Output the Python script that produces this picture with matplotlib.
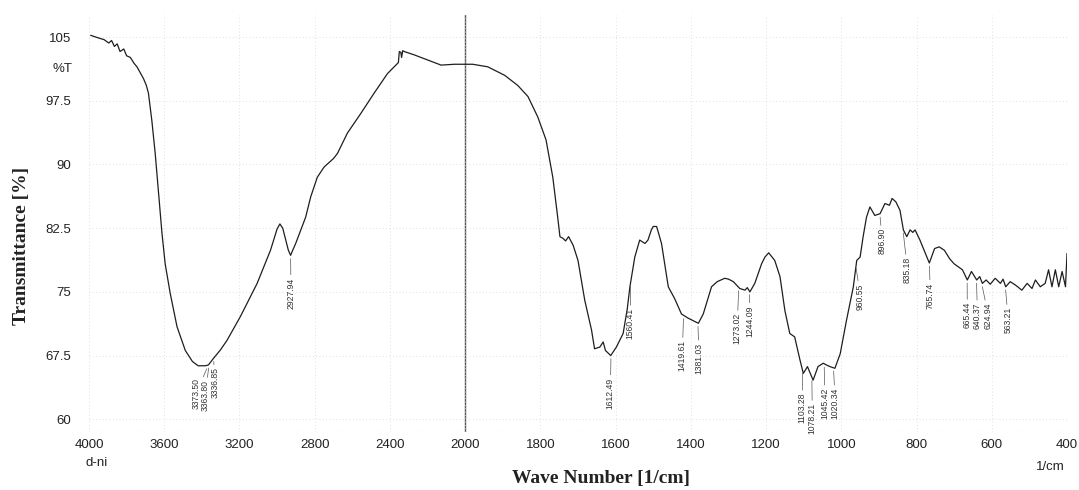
import numpy as np
import matplotlib
matplotlib.use("Agg")
import matplotlib.pyplot as plt

# FTIR spectrum (wave number in 1/cm, transmittance in %)
wavenumber = [
    3990, 3950, 3920, 3895, 3880, 3865, 3850, 3835, 3815, 3800, 3780, 3760,
    3745, 3730, 3710, 3695, 3684, 3666, 3648, 3630, 3612, 3595, 3568, 3532,
    3488, 3450, 3420, 3381, 3365, 3337, 3300, 3266, 3195, 3106, 3035, 3000,
    2985, 2970, 2955, 2940, 2928, 2915, 2901, 2870, 2848, 2821, 2786, 2750,
    2700, 2679, 2626, 2555, 2484, 2413, 2368, 2355, 2350, 2342, 2338, 2332,
    2324, 2270, 2199, 2128, 2057, 1993, 1980, 1940, 1895, 1860, 1833, 1807,
    1785, 1767, 1754, 1748, 1740, 1733, 1725, 1713, 1700, 1682, 1664, 1656,
    1642, 1633, 1627, 1613, 1598, 1580, 1569, 1562, 1549, 1536, 1522, 1514,
    1505, 1500, 1491, 1478, 1460, 1443, 1425, 1407, 1380, 1367, 1345, 1330,
    1310, 1300, 1287, 1270, 1256, 1250, 1243, 1230, 1212, 1203, 1193, 1177,
    1163, 1150, 1137, 1124, 1110, 1101, 1090, 1075, 1062, 1048, 1040, 1030,
    1017, 1003, 986, 968, 959, 950, 942, 933, 924, 911, 897, 884,
    872, 865, 855, 844, 835, 826, 817, 810, 804, 791, 778, 766,
    752, 740, 726, 712, 700, 678, 665, 654, 640, 632, 625, 615,
    604, 591, 577, 570, 563, 551, 537, 520, 506, 493, 484, 471,
    458, 449, 440, 431, 422, 413, 404, 400,
]
transmittance = [
    105.2, 104.9, 104.7, 104.3, 104.6, 103.9, 104.2, 103.3, 103.6, 102.8, 102.6, 101.9,
    101.5, 100.9, 100.1, 99.3, 98.4, 95.2, 91.3, 86.6, 81.9, 78.3, 74.8, 70.9,
    68.1, 66.8, 66.3, 66.3, 66.4, 67.2, 68.2, 69.3, 72.1, 76.0, 79.9, 82.4,
    83.0, 82.5, 81.2, 79.9, 79.3, 80.0, 80.7, 82.5, 83.8, 86.2, 88.5, 89.7,
    90.7, 91.3, 93.7, 96.0, 98.4, 100.7, 101.7, 102.0, 103.3, 103.2, 102.6, 103.4,
    103.3, 102.9, 102.3, 101.7, 101.8, 101.8, 101.8, 101.5, 100.5, 99.3, 98.0, 95.6,
    92.9, 88.5, 83.8, 81.5, 81.3, 81.0, 81.5, 80.5, 78.7, 74.0, 70.5, 68.3,
    68.5, 69.1, 68.1, 67.5, 68.5, 70.1, 73.0, 75.6, 79.1, 81.1, 80.7, 81.1,
    82.3, 82.7, 82.7, 80.7, 75.6, 74.2, 72.4, 71.9, 71.3, 72.4, 75.6, 76.2,
    76.6, 76.5, 76.2, 75.4, 75.2, 75.5, 75.0, 76.0, 78.3, 79.1, 79.6, 78.7,
    76.8, 72.8, 70.1, 69.7, 67.0, 65.4, 66.2, 64.6, 66.2, 66.6, 66.4, 66.2,
    66.0, 67.7, 71.7, 75.6, 78.7, 79.1, 81.5, 83.8, 85.0, 84.0, 84.2, 85.4,
    85.2, 86.0, 85.6, 84.6, 82.3, 81.5, 82.3, 82.0, 82.3, 81.1, 79.7, 78.4,
    80.1, 80.3, 79.9, 78.9, 78.3, 77.6, 76.4, 77.4, 76.4, 76.8, 76.0, 76.4,
    75.9, 76.6, 76.0, 76.5, 75.6, 76.2, 75.8, 75.2, 76.0, 75.4, 76.4, 75.6,
    76.0, 77.6, 75.6, 77.6, 75.6, 77.4, 75.6, 79.5,
]

peak_positions = [
    3373.50, 3363.80, 3336.85, 2927.94, 1612.49, 1560.41, 1419.61, 1381.03,
    1273.02, 1244.09, 1103.28, 1078.21, 1045.42, 1020.34, 960.55, 896.90,
    835.18, 765.74, 665.44, 640.37, 624.94, 563.21,
]
peak_labels = [f"{p:.2f}" for p in peak_positions]

# where each label's text top sits (wave number, %T)
label_spots = [
    (3431, 64.9), (3383, 64.6), (3330, 66.1), (2926, 76.7), (1614, 64.9),
    (1561, 73.1), (1423, 69.3), (1378, 69.0), (1277, 72.5), (1242, 73.4),
    (1104, 63.1), (1077, 61.9), (1043, 63.7), (1016, 63.7), (949, 76.0),
    (891, 82.5), (824, 79.1), (763, 76.1), (665, 73.8), (638, 73.7),
    (609, 73.7), (556, 73.2),
]

y_ticks = [60, 67.5, 75, 82.5, 90, 97.5, 105]
x_ticks = [4000, 3600, 3200, 2800, 2400, 2000, 1800, 1600, 1400, 1200, 1000, 800, 600, 400]


def fold(x):
    # above 2000 1/cm the instrument plots at half scale
    x = np.asarray(x, dtype=float)
    return np.where(x > 2000, 2000 + (x - 2000) / 2, x)


def unfold(u):
    u = np.asarray(u, dtype=float)
    return np.where(u > 2000, 2000 + (u - 2000) * 2, u)


sans = ["Liberation Sans", "DejaVu Sans"]
serif = ["Liberation Serif", "DejaVu Serif"]

fig = plt.figure(figsize=(10.79, 4.90), dpi=100)
ax = fig.add_axes([89 / 1079, 1 - 432 / 490, 978 / 1079, 417 / 490])
ax.set_xscale("function", functions=(fold, unfold))

ax.plot(wavenumber, transmittance, color="#1e1e1e", lw=0.9, zorder=3)
ax.set_xlim(4000, 400)
ax.set_ylim(58.5, 107.6)

ax.set_xticks(x_ticks)
ax.set_xticklabels([str(t) for t in x_ticks], family=sans, fontsize=9.5)
ax.set_yticks(y_ticks)
ax.set_yticklabels([f"{t:g}" for t in y_ticks], family=sans, fontsize=9.5)
ax.tick_params(axis="x", length=0, pad=5, colors="#222222")
ax.tick_params(axis="y", length=0, pad=13, colors="#222222")

for s in ax.spines.values():
    s.set_visible(False)

ax.grid(True, color="#d6d6d6", linestyle=(0, (1, 3)), lw=0.6, zorder=0)
ax.axvline(2000, color="#555555", lw=1.0, zorder=1)
ax.axhline(58.5, color="#bdbdbd", linestyle=(0, (2, 4)), lw=0.8, zorder=1)

# peak labels with leader lines
wn_up = np.array(wavenumber[::-1], dtype=float)
tr_up = np.array(transmittance[::-1], dtype=float)
for pos, lab, (tx, ty) in zip(peak_positions, peak_labels, label_spots):
    ty_curve = np.interp(pos, wn_up, tr_up) - 0.4
    ax.annotate(lab, xy=(pos, ty_curve), xytext=(tx, ty), rotation=90,
                ha="center", va="top", fontsize=6.2, family=sans, color="#333333",
                arrowprops=dict(arrowstyle="-", lw=0.5, color="#555555",
                                shrinkA=0, shrinkB=0))

fig.text(72 / 1079, 1 - 69 / 490, "%T", ha="right", va="center",
         family=sans, fontsize=9.5, color="#222222")
fig.text(97 / 1079, 1 - 463 / 490, "d-ni", ha="center", va="center",
         family=sans, fontsize=9.5, color="#222222")
fig.text(1050 / 1079, 1 - 467 / 490, "1/cm", ha="center", va="center",
         family=sans, fontsize=9.5, color="#222222")

fig.text(601 / 1079, 1 - 478 / 490, "Wave Number [1/cm]", ha="center", va="center",
         family=serif, fontweight="bold", fontsize=14, color="#222222")
fig.text(22 / 1079, 1 - 246 / 490, "Transmittance [%]", ha="center", va="center",
         rotation=90, family=serif, fontweight="bold", fontsize=14, color="#222222")

fig.savefig("out.png", dpi=100, facecolor="white")
